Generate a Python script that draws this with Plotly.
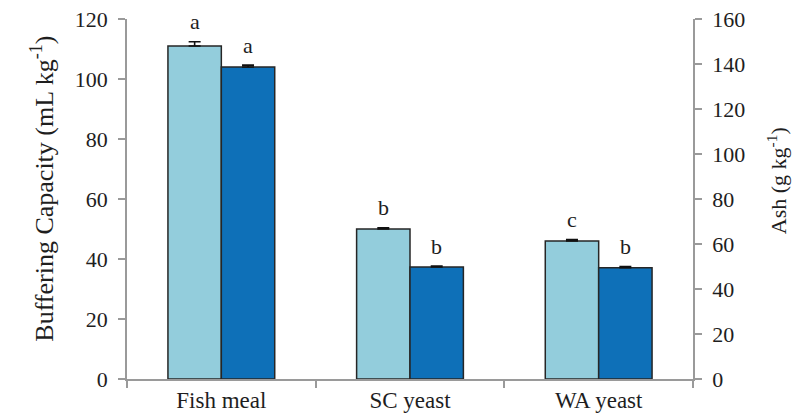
import plotly.graph_objects as go

# Feed ingredients compared
categories = ["Fish meal", "SC yeast", "WA yeast"]

# Buffering capacity (mL kg-1), left axis
buffering = [111.0, 50.0, 46.0]
buffering_err = [1.4, 0.4, 0.5]
buffering_letters = ["a", "b", "c"]

# Ash content (g kg-1), right axis
ash = [138.7, 49.8, 49.5]
ash_err = [0.8, 0.4, 0.5]
ash_letters = ["a", "b", "b"]

FONT = "Liberation Serif, Times New Roman, serif"
TEXT = "#1e1e1e"
AXIS_GREY = "#9a9a9a"
LIGHT = "#93CDDC"
DARK = "#0E70B8"
OUTLINE = "#262626"

fig = go.Figure()

# Error bars point upward only (lower half hidden in the bar)
fig.add_trace(go.Bar(
    x=categories, y=buffering, name="Buffering capacity",
    marker=dict(color=LIGHT, line=dict(color=OUTLINE, width=1.5)),
    error_y=dict(type="data", array=buffering_err, arrayminus=[0] * len(buffering_err),
                 symmetric=False, visible=True,
                 color="#111111", thickness=1.6, width=6),
    offsetgroup="1", yaxis="y",
))
fig.add_trace(go.Bar(
    x=categories, y=ash, name="Ash",
    marker=dict(color=DARK, line=dict(color=OUTLINE, width=1.5)),
    error_y=dict(type="data", array=ash_err, arrayminus=[0] * len(ash_err),
                 symmetric=False, visible=True,
                 color="#111111", thickness=1.6, width=6),
    offsetgroup="2", yaxis="y2",
))

# Significance letters above each bar
annotations = []
for cat, val, err, letter in zip(categories, buffering, buffering_err, buffering_letters):
    annotations.append(dict(x=cat, y=val + err, xref="x", yref="y", text=letter,
                            showarrow=False, xshift=-26.5, yshift=20,
                            font=dict(family=FONT, size=22, color=TEXT)))
for cat, val, err, letter in zip(categories, ash, ash_err, ash_letters):
    annotations.append(dict(x=cat, y=val + err, xref="x", yref="y2", text=letter,
                            showarrow=False, xshift=26.5, yshift=20,
                            font=dict(family=FONT, size=22, color=TEXT)))

# Axis titles
annotations.append(dict(x=-0.182, y=0.53, xref="paper", yref="paper",
                        text="Buffering Capacity (mL kg<sup>-1</sup>)", textangle=-90,
                        showarrow=False, font=dict(family=FONT, size=26, color=TEXT)))
annotations.append(dict(x=1.177, y=0.55, xref="paper", yref="paper",
                        text="Ash (g kg<sup>-1</sup>)", textangle=-90,
                        showarrow=False, font=dict(family=FONT, size=22, color=TEXT)))

tick_font = dict(family=FONT, size=22, color=TEXT)

fig.update_layout(
    width=804, height=419,
    margin=dict(l=127, r=111, t=19, b=40, autoexpand=False),
    paper_bgcolor="white", plot_bgcolor="white",
    barmode="group", bargap=0.434, bargroupgap=0,
    showlegend=False,
    font=dict(family=FONT, size=22, color=TEXT),
    xaxis=dict(
        showline=True, linecolor=AXIS_GREY, linewidth=1.5,
        ticks="outside", tickson="boundaries", ticklen=7, tickcolor=AXIS_GREY,
        tickwidth=1.5, showgrid=False, zeroline=False, automargin=False,
        tickfont=dict(family=FONT, size=23, color=TEXT),
    ),
    yaxis=dict(
        range=[0, 120], dtick=20, showline=True, linecolor=AXIS_GREY, linewidth=1.5,
        ticks="outside", ticklen=7, tickcolor=AXIS_GREY, tickwidth=1.5,
        showgrid=False, zeroline=False, ticklabelstandoff=6, automargin=False,
        tickfont=tick_font,
    ),
    yaxis2=dict(
        range=[0, 160], dtick=20, overlaying="y", side="right",
        showline=True, linecolor=AXIS_GREY, linewidth=1.5,
        ticks="outside", ticklen=7, tickcolor=AXIS_GREY, tickwidth=1.5,
        showgrid=False, zeroline=False, ticklabelstandoff=6, automargin=False,
        tickfont=tick_font,
    ),
    annotations=annotations,
)

fig.write_html("out.html")
